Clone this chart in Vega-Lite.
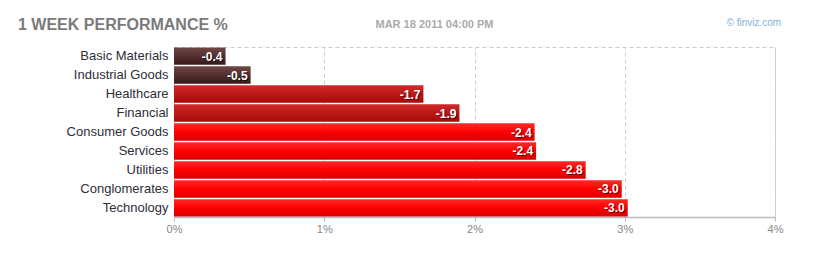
{
  "$schema": "https://vega.github.io/schema/vega-lite/v6.json",
  "autosize": "none",
  "width": 601,
  "height": 170,
  "padding": {"left": 174, "top": 47, "right": 51, "bottom": 43},
  "background": "white",
  "title": {
    "text": "1 WEEK PERFORMANCE %",
    "anchor": "start",
    "frame": "group",
    "orient": "top",
    "baseline": "alphabetic",
    "offset": -29,
    "dx": -156,
    "font": "Liberation Sans",
    "fontSize": 16,
    "fontWeight": "bold",
    "color": "#7a7a7a"
  },
  "data": {
    "values": [
      {"sector": "Basic Materials", "pct": 0.343, "label": "-0.4", "group": "dark"},
      {"sector": "Industrial Goods", "pct": 0.51, "label": "-0.5", "group": "dark"},
      {"sector": "Healthcare", "pct": 1.66, "label": "-1.7", "group": "mid"},
      {"sector": "Financial", "pct": 1.90, "label": "-1.9", "group": "mid"},
      {"sector": "Consumer Goods", "pct": 2.40, "label": "-2.4", "group": "bright"},
      {"sector": "Services", "pct": 2.41, "label": "-2.4", "group": "bright"},
      {"sector": "Utilities", "pct": 2.74, "label": "-2.8", "group": "bright"},
      {"sector": "Conglomerates", "pct": 2.98, "label": "-3.0", "group": "bright"},
      {"sector": "Technology", "pct": 3.02, "label": "-3.0", "group": "bright"}
    ]
  },
  "encoding": {
    "y": {
      "field": "sector",
      "type": "nominal",
      "sort": null,
      "scale": {"paddingInner": 0.08, "paddingOuter": 0.02},
      "axis": {
        "title": "© finviz.com",
        "titleAngle": 0,
        "titleX": 552,
        "titleY": -22,
        "titleAlign": "left",
        "titleBaseline": "alphabetic",
        "titleFont": "Liberation Sans",
        "titleFontSize": 10,
        "titleFontWeight": "normal",
        "titleColor": "#7fb2dc",
        "ticks": false,
        "domain": false,
        "labelPadding": 6,
        "labelFont": "Liberation Sans",
        "labelFontSize": 13,
        "labelColor": "#2e2e3a"
      }
    },
    "x": {
      "field": "pct",
      "type": "quantitative",
      "scale": {"domain": [0, 4], "nice": false},
      "axis": {
        "title": "MAR 18 2011 04:00 PM",
        "titleX": 260,
        "titleY": -190,
        "titleAnchor": null,
        "titleAlign": "center",
        "titleBaseline": "alphabetic",
        "titleFont": "Liberation Sans",
        "titleFontSize": 11,
        "titleFontWeight": "bold",
        "titleColor": "#aaaaaa",
        "values": [0, 1, 2, 3, 4],
        "labelExpr": "datum.value + '%'",
        "labelFlush": false,
        "labelFont": "Liberation Sans",
        "labelFontSize": 11,
        "labelColor": "#888888",
        "labelPadding": 2,
        "tickSize": 4,
        "tickColor": "#bbbbbb",
        "domainColor": "#bbbbbb",
        "domainWidth": 1.5,
        "grid": true,
        "gridColor": "#cccccc",
        "gridDash": [4, 3]
      }
    }
  },
  "layer": [
    {
      "transform": [{"filter": "datum.group == 'dark'"}],
      "mark": {
        "type": "bar",
        "color": {"gradient": "linear", "x1": 0, "y1": 0, "x2": 0, "y2": 1,
          "stops": [{"offset": 0, "color": "#6e4646"}, {"offset": 1, "color": "#3a1818"}]}
      }
    },
    {
      "transform": [{"filter": "datum.group == 'mid'"}],
      "mark": {
        "type": "bar",
        "color": {"gradient": "linear", "x1": 0, "y1": 0, "x2": 0, "y2": 1,
          "stops": [{"offset": 0, "color": "#d02a2a"}, {"offset": 1, "color": "#a80808"}]}
      }
    },
    {
      "transform": [{"filter": "datum.group == 'bright'"}],
      "mark": {
        "type": "bar",
        "color": {"gradient": "linear", "x1": 0, "y1": 0, "x2": 0, "y2": 1,
          "stops": [{"offset": 0, "color": "#ff2a2a"}, {"offset": 0.5, "color": "#ff0000"}, {"offset": 1, "color": "#d80000"}]}
      }
    },
    {
      "mark": {"type": "text", "align": "right", "baseline": "middle", "dx": -2, "dy": 1.5, "font": "Liberation Sans", "fontSize": 12, "fontWeight": "bold", "color": "#000000", "opacity": 0.55},
      "encoding": {"text": {"field": "label"}}
    },
    {
      "mark": {"type": "text", "align": "right", "baseline": "middle", "dx": -3, "dy": 0.5, "font": "Liberation Sans", "fontSize": 12, "fontWeight": "bold", "color": "#ffffff"},
      "encoding": {"text": {"field": "label"}}
    }
  ],
  "config": {
    "view": {"stroke": "#cccccc", "strokeDash": [4, 3]}
  }
}
